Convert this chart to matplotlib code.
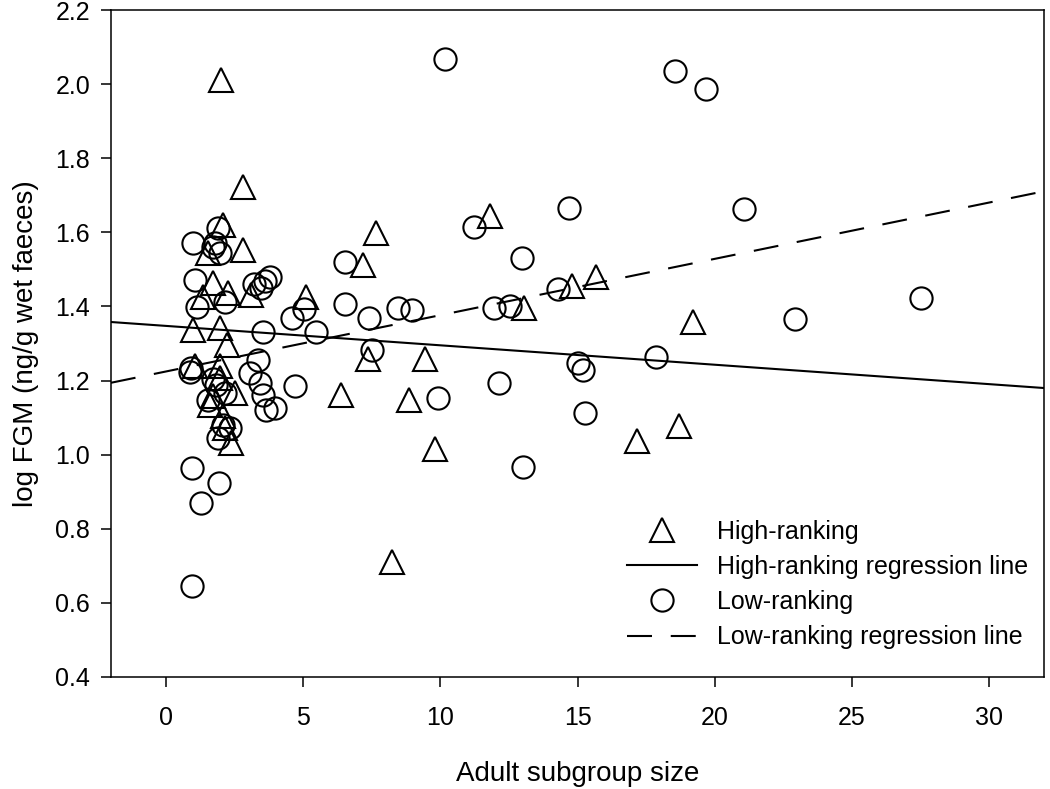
import numpy as np
import matplotlib
matplotlib.use('Agg')
import matplotlib.pyplot as plt

plt.rcParams['font.family'] = ['Liberation Sans', 'DejaVu Sans']

# 高位個體 (三角形)
high_x = [2.0, 2.8, 2.08, 2.81, 1.54, 1.72, 2.27, 1.36, 3.12, 0.99, 1.96, 2.21,
          1.05, 1.96, 1.96, 2.51, 1.72, 1.60, 2.08, 2.15, 2.39, 7.66, 7.18, 5.09,
          11.81, 13.05, 14.81, 15.66, 7.36, 9.44, 6.39, 8.87, 9.81, 8.25, 19.2,
          17.16, 18.69]
high_y = [2.01, 1.722, 1.62, 1.552, 1.543, 1.462, 1.436, 1.426, 1.431, 1.337, 1.341,
          1.296, 1.238, 1.238, 1.206, 1.166, 1.157, 1.134, 1.103, 1.071, 1.031, 1.597,
          1.512, 1.426, 1.644, 1.395, 1.455, 1.48, 1.257, 1.257, 1.161, 1.148, 1.015,
          0.711, 1.358, 1.037, 1.077]

# 低位個體 (圓形)
low_x = [1.90, 0.99, 1.78, 1.72, 1.96, 1.05, 1.12, 2.15, 3.2, 3.45, 3.6, 3.8, 3.54,
         0.93, 0.87, 3.36, 3.05, 3.42, 3.54, 3.66, 3.96, 4.69, 1.84, 1.54, 2.15, 2.08,
         2.33, 1.90, 1.7, 0.95, 1.93, 1.27, 0.95,
         14.69, 11.24, 12.99, 6.51, 6.51, 5.05, 4.61, 7.42, 8.45, 8.97, 11.96, 12.55,
         14.30, 5.48, 7.52, 9.90, 12.15, 15.03, 15.2, 15.27, 13.03, 10.18, 18.55, 19.67,
         21.05, 27.53, 22.91, 17.85]
low_y = [1.611, 1.572, 1.570, 1.561, 1.543, 1.471, 1.399, 1.413, 1.46, 1.45, 1.47, 1.48,
         1.332, 1.233, 1.224, 1.256, 1.220, 1.193, 1.161, 1.121, 1.125, 1.184, 1.188,
         1.148, 1.167, 1.080, 1.071, 1.044, 1.204, 0.963, 0.923, 0.869, 0.645,
         1.667, 1.614, 1.532, 1.519, 1.407, 1.392, 1.370, 1.368, 1.397, 1.390, 1.395,
         1.401, 1.446, 1.332, 1.283, 1.152, 1.194, 1.247, 1.229, 1.113, 0.968, 2.068,
         2.035, 1.987, 1.663, 1.423, 1.366, 1.264]

# 迴歸線 (截距, 斜率)
high_fit = [1.3475, -0.00524]
low_fit = [1.2244, 0.0152]

x_range = [-2, 32]


def main():
    fig = plt.figure(figsize=(10.5, 7.89), dpi=100)
    ax = fig.add_axes([0.1057, 0.142, 0.8886, 0.8453])

    ax.plot(high_x, high_y, linestyle='none', marker='^', markersize=17,
            markerfacecolor='none', markeredgecolor='black', markeredgewidth=1.5,
            label='High-ranking', zorder=3)

    xs = np.array(x_range, dtype=float)
    ax.plot(xs, high_fit[0] + high_fit[1] * xs, color='black', lw=1.5,
            label='High-ranking regression line')

    ax.plot(low_x, low_y, linestyle='none', marker='o', markersize=16,
            markerfacecolor='none', markeredgecolor='black', markeredgewidth=1.5,
            label='Low-ranking', zorder=3)

    ax.plot(xs, low_fit[0] + low_fit[1] * xs, color='black', lw=1.5,
            linestyle=(0, (12, 9)), label='Low-ranking regression line')

    ax.set_xlim(x_range)
    ax.set_ylim(0.4, 2.2)
    ax.set_xticks(np.arange(0, 31, 5))
    ax.set_yticks(np.arange(0.4, 2.21, 0.2))
    ax.set_yticklabels([f'{v:.1f}' for v in np.arange(0.4, 2.21, 0.2)])

    ax.tick_params(direction='out', length=7, width=1.1, labelsize=18, pad=8)
    ax.tick_params(axis='x', pad=14)
    for s in ax.spines.values():
        s.set_linewidth(1.1)

    ax.set_xlabel('Adult subgroup size', fontsize=20, labelpad=22)
    ax.set_ylabel('log FGM (ng/g wet faeces)', fontsize=20, labelpad=12)

    ax.legend(loc='upper left', bbox_to_anchor=(0.553, 0.236), frameon=False,
              fontsize=18, handlelength=2.8, handletextpad=0.8, labelspacing=0.45,
              borderpad=0, borderaxespad=0)

    fig.savefig('out.png', dpi=100)
    plt.close(fig)


if __name__ == "__main__":
    main()
